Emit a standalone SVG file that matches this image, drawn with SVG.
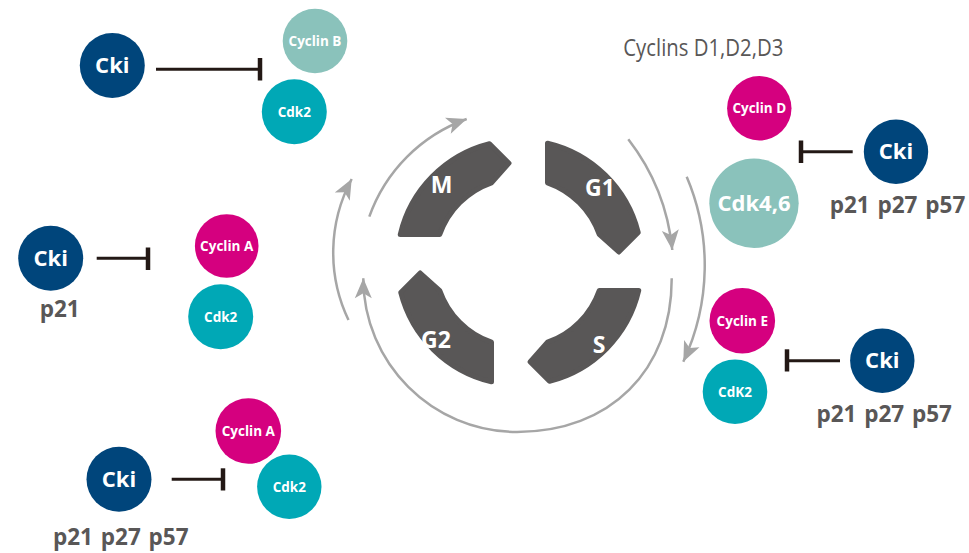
<svg xmlns="http://www.w3.org/2000/svg" xmlns:xlink="http://www.w3.org/1999/xlink" width="969" height="553" viewBox="0 0 969 553">
<style>
.seg{fill:#595757;stroke:#595757;stroke-width:5;stroke-linejoin:round}
.segt{font-family:"Open Sans","Noto Sans",sans-serif;font-weight:700;font-size:23px;fill:#ffffff;text-anchor:middle}
.arc{fill:none;stroke:#a6a6a6;stroke-width:2.5;marker-end:url(#ah)}
.inh{stroke:#231815;stroke-width:3;fill:none}
.bar{stroke:#231815;stroke-width:4.5;fill:none}
.cki{fill:#00457b}
.cyc{fill:#d5007f}
.cdk2{fill:#00a8b6}
.pale{fill:#8ac2bb}
.lab{font-family:"Open Sans","Noto Sans",sans-serif;font-weight:700;fill:#ffffff;text-anchor:middle}
.big{font-size:22px}
.small{font-size:13.5px}
.sub{font-family:"Open Sans","Noto Sans",sans-serif;font-weight:700;font-size:22.5px;fill:#595757;text-anchor:middle;word-spacing:2px}
.title{font-family:"Open Sans","Noto Sans",sans-serif;font-weight:400;font-size:23px;fill:#595757}
</style>
<defs>
<marker id="ah" markerUnits="userSpaceOnUse" viewBox="-21 -10 22 20" markerWidth="22" markerHeight="20" refX="0" refY="0" orient="auto">
<path d="M0,0 L-20,-8.5 L-15,0 L-20,8.5 Z" fill="#a6a6a6"/>
</marker>
<path id="segshape" d="M400.24,234.5 A122.5,122.5 0 0,1 489.5,143.73 L509,163.2 L491.5,182.77 A84.5,84.5 0 0,0 439.77,234.5 Z"/>
</defs>

<g id="cycle">
<g id="seg-M"><use xlink:href="#segshape" class="seg"/><text class="segt" x="441.7" y="193">M</text></g>
<g id="seg-G1"><use xlink:href="#segshape" class="seg" transform="rotate(90 519.5 262.5)"/><text class="segt" x="600" y="196">G1</text></g>
<g id="seg-S"><use xlink:href="#segshape" class="seg" transform="rotate(180 519.5 262.5)"/><text class="segt" x="599" y="353">S</text></g>
<g id="seg-G2"><use xlink:href="#segshape" class="seg" transform="rotate(270 519.5 262.5)"/><text class="segt" x="436" y="348">G2</text></g>
</g>

<g id="connectors">
<path class="arc" d="M348.5,320 A156,156 0 0,1 351.7,179"/>
<path class="arc" d="M369.3,216.7 A161,161 0 0,1 466.7,119"/>
<path class="arc" d="M628.3,139.3 A215.5,215.5 0 0,1 672.3,250"/>
<path class="arc" d="M686.7,176.7 A227,227 0 0,1 683.3,361.7"/>
<path class="arc" d="M671.7,278.3 C672,370.4 610,432 517,432 C432,432 363.3,363 363.3,278.3"/>
<line class="inh" x1="156" y1="69.3" x2="259" y2="69.3"/>
<line class="bar" x1="260" y1="58" x2="260" y2="80.5"/>
<line class="inh" x1="96.7" y1="258.3" x2="147" y2="258.3"/>
<line class="bar" x1="148" y1="247.5" x2="148" y2="270"/>
<line class="inh" x1="171.7" y1="479.3" x2="222" y2="479.3"/>
<line class="bar" x1="223" y1="468.3" x2="223" y2="490.5"/>
<line class="inh" x1="852.7" y1="151.7" x2="802" y2="151.7"/>
<line class="bar" x1="801" y1="140.5" x2="801" y2="163"/>
<line class="inh" x1="840" y1="360.7" x2="788" y2="360.7"/>
<line class="bar" x1="787" y1="349.3" x2="787" y2="371.5"/>
</g>

<g id="cki-1"><circle class="cki" cx="112.3" cy="65.5" r="32.5"/><text class="lab big" x="112.3" y="73.2">Cki</text></g>
<g id="cyclinB"><circle class="pale" cx="315" cy="41" r="32.3"/><text class="lab small" x="315" y="45.8">Cyclin B</text></g>
<g id="cdk2-1"><circle class="cdk2" cx="294.3" cy="111.7" r="32.5"/><text class="lab small" x="294.3" y="116.5">Cdk2</text></g>

<g id="cki-2"><circle class="cki" cx="50.7" cy="258.3" r="32.5"/><text class="lab big" x="50.7" y="266">Cki</text><text class="sub" x="59.7" y="316.7">p21</text></g>
<g id="cyclinA-1"><circle class="cyc" cx="226.7" cy="246" r="31.8"/><text class="lab small" x="226.7" y="250.8">Cyclin A</text></g>
<g id="cdk2-2"><circle class="cdk2" cx="220.7" cy="316.7" r="32.5"/><text class="lab small" x="220.7" y="321.5">Cdk2</text></g>

<g id="cki-3"><circle class="cki" cx="119" cy="479.3" r="32.5"/><text class="lab big" x="119" y="487">Cki</text><text class="sub" x="120.8" y="545">p21 p27 p57</text></g>
<g id="cyclinA-2"><circle class="cyc" cx="248.3" cy="431" r="32.8"/><text class="lab small" x="248.3" y="435.8">Cyclin A</text></g>
<g id="cdk2-3"><circle class="cdk2" cx="289.3" cy="486.7" r="32.2"/><text class="lab small" x="289.3" y="491.5">Cdk2</text></g>

<g id="cyclinsD"><text class="title" x="623.3" y="56" textLength="160" lengthAdjust="spacingAndGlyphs">Cyclins D1,D2,D3</text></g>
<g id="cyclinD"><circle class="cyc" cx="759.3" cy="108.3" r="32.2"/><text class="lab small" x="759.3" y="113">Cyclin D</text></g>
<g id="cdk46"><circle class="pale" cx="754" cy="203.3" r="44.7"/><text class="lab big" x="754" y="211">Cdk4,6</text></g>
<g id="cki-4"><circle class="cki" cx="896" cy="151.7" r="32.2"/><text class="lab big" x="896" y="159.4">Cki</text><text class="sub" x="897.5" y="212.7">p21 p27 p57</text></g>

<g id="cyclinE"><circle class="cyc" cx="742.3" cy="320.7" r="32.8"/><text class="lab small" x="742.3" y="325.5">Cyclin E</text></g>
<g id="cdk2-4"><circle class="cdk2" cx="735" cy="391.7" r="32.3"/><text class="lab small" x="735" y="396.5">CdK2</text></g>
<g id="cki-5"><circle class="cki" cx="882.3" cy="360.7" r="32.2"/><text class="lab big" x="882.3" y="368.4">Cki</text><text class="sub" x="884.2" y="421.7">p21 p27 p57</text></g>
</svg>
